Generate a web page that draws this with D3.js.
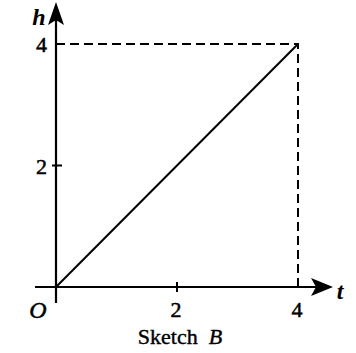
<!DOCTYPE html>
<html>
<head>
<meta charset="utf-8">
<script src="https://cdn.jsdelivr.net/npm/d3@7"></script>
<style>
  body { margin: 0; background: #fff; }
  text { font-family: "Liberation Serif", "Times New Roman", serif; fill: #000; }
</style>
</head>
<body>
<div id="chart"></div>
<script>
// values
const tValues = [0, 4];
const hValues = [0, 4];
const xTicks = [2, 4];
const yTicks = [2, 4];
const xLabel = "t", yLabel = "h", originLabel = "O";
const caption = ["Sketch", "B"];

function draw() {
  const width = 356, height = 353;

  const svg = d3.select("#chart")
    .append("svg")
    .attr("width", width)
    .attr("height", height);

  let x = d3.scaleLinear()
    .domain([0, 4])
    .range([56, 298]);

  let y = d3.scaleLinear()
    .domain([0, 4])
    .range([287, 44]);

  // dashed guides to the end point
  const tEnd = tValues[tValues.length - 1], hEnd = hValues[hValues.length - 1];
  svg.append("path")
    .attr("d", `M${x(0)},${y(hEnd)}H${x(tEnd)}V${y(0)}`)
    .attr("fill", "none")
    .attr("stroke", "#000")
    .attr("stroke-width", 2)
    .attr("stroke-dasharray", "9,5");

  // axes
  svg.append("line") // x axis
    .attr("x1", 35).attr("y1", y(0))
    .attr("x2", 320).attr("y2", y(0))
    .attr("stroke", "#000").attr("stroke-width", 2.2);
  svg.append("line") // y axis
    .attr("x1", x(0)).attr("y1", 303)
    .attr("x2", x(0)).attr("y2", 14)
    .attr("stroke", "#000").attr("stroke-width", 2.2);

  // arrow heads
  svg.append("path")
    .attr("d", `M333,${y(0)}L311,${y(0) - 9}L316,${y(0)}L311,${y(0) + 9}Z`)
    .attr("fill", "#000");
  svg.append("path")
    .attr("d", `M${x(0)},2L${x(0) - 8},25L${x(0)},20L${x(0) + 8},25Z`)
    .attr("fill", "#000");

  // ticks
  svg.selectAll(".xtick")
    .data(xTicks.filter(d => d < 4))
    .join("line")
    .attr("x1", d => x(d)).attr("x2", d => x(d))
    .attr("y1", y(0) - 5).attr("y2", y(0) + 5)
    .attr("stroke", "#000").attr("stroke-width", 2);
  svg.selectAll(".ytick")
    .data(yTicks.filter(d => d < 4))
    .join("line")
    .attr("x1", x(0) - 4).attr("x2", x(0) + 6)
    .attr("y1", d => y(d)).attr("y2", d => y(d))
    .attr("stroke", "#000").attr("stroke-width", 2);

  // tick labels
  svg.selectAll(".xlab")
    .data(xTicks)
    .join("text")
    .attr("x", d => x(d) - 1)
    .attr("y", 317)
    .attr("text-anchor", "middle")
    .attr("font-size", 22)
    .attr("stroke", "#000").attr("stroke-width", 0.5)
    .text(d => d);
  svg.selectAll(".ylab")
    .data(yTicks)
    .join("text")
    .attr("x", 47)
    .attr("y", d => y(d) + 8)
    .attr("text-anchor", "end")
    .attr("font-size", 22)
    .attr("stroke", "#000").attr("stroke-width", 0.5)
    .text(d => d);

  // the line h = t
  svg.append("path")
    .datum(tValues.map((t, i) => [t, hValues[i]]))
    .attr("d", d3.line().x(d => x(d[0])).y(d => y(d[1])))
    .attr("fill", "none")
    .attr("stroke", "#000")
    .attr("stroke-width", 2);

  // axis names
  svg.append("text")
    .attr("x", 39).attr("y", 25)
    .attr("text-anchor", "middle")
    .attr("font-size", 24).attr("font-style", "italic").attr("font-weight", "bold")
    .text(yLabel);
  svg.append("text")
    .attr("x", 340).attr("y", 299)
    .attr("text-anchor", "middle")
    .attr("font-size", 24).attr("font-style", "italic").attr("font-weight", "bold")
    .text(xLabel);
  svg.append("text")
    .attr("x", 38).attr("y", 318)
    .attr("text-anchor", "middle")
    .attr("font-size", 24).attr("font-style", "italic")
    .attr("stroke", "#000").attr("stroke-width", 0.5)
    .text(originLabel);

  // caption
  const cap = svg.append("text")
    .attr("x", 180).attr("y", 344)
    .attr("text-anchor", "middle")
    .attr("font-size", 22)
    .attr("stroke", "#000").attr("stroke-width", 0.4);
  cap.append("tspan").text(caption[0] + "\u2002");
  cap.append("tspan").attr("font-style", "italic").text(caption[1]);
}
draw();
</script>
</body>
</html>
